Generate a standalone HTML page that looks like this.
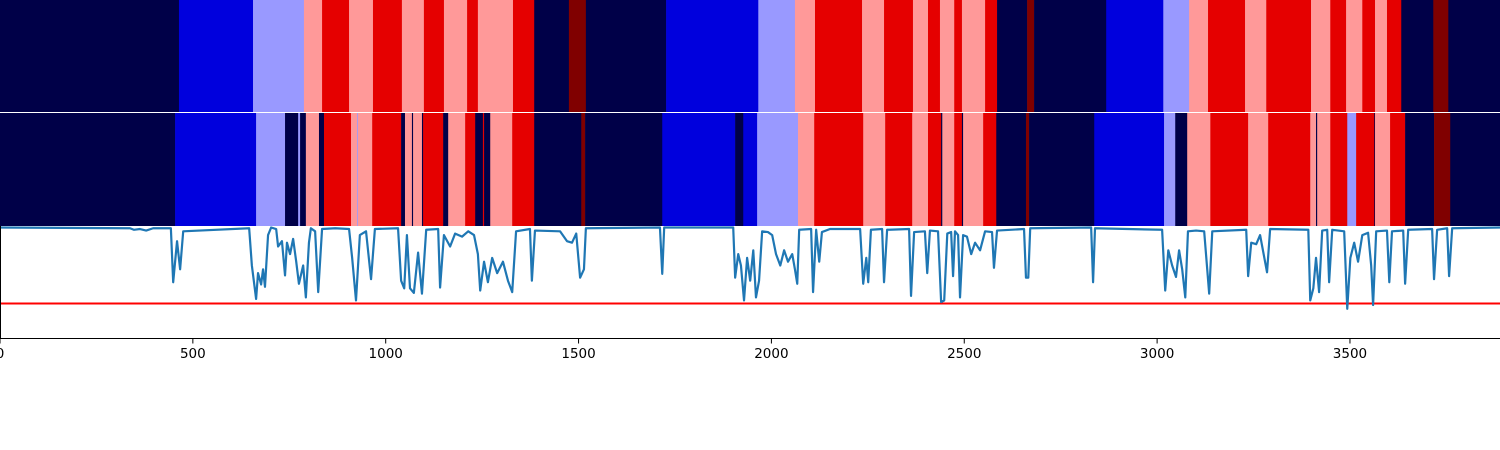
<!DOCTYPE html>
<html><head><meta charset="utf-8"><style>
html,body{margin:0;padding:0;background:#fff;width:1500px;height:450px;overflow:hidden}
svg{display:block}
text{font-family:"DejaVu Sans","Liberation Sans",sans-serif;font-size:13.5px;fill:#000}
</style></head><body>
<svg id="chart" width="1500" height="450" xmlns="http://www.w3.org/2000/svg">
<g id="bands"></g>
<g id="plot"></g>
<g id="axis"></g>
</svg>
<script>
const xMax = 3889;
const palette = ["#000048", "#0000dd", "#9999ff", "#ff9999", "#e50000", "#800000"];
const topStarts = [0,464,656,788,835,905,967,1042,1099,1151,1211,1239,1330,1385,1475,1519,1727,1966,2061,2113,2235,2292,2367,2406,2437,2474,2494,2554,2585,2663,2681,2868,3016,3083,3132,3228,3283,3399,3449,3490,3532,3565,3596,3633,3716,3755];
const topStates = [0,1,2,3,4,3,4,3,4,3,4,3,4,0,5,0,1,2,3,4,3,4,3,4,3,4,3,4,0,5,0,1,2,3,4,3,4,3,4,3,4,3,4,0,5,0];
const midStarts = [0,454,664,739,773,778,793,827,840,910,926,928,965,1040,1050,1068,1071,1094,1097,1149,1162,1206,1232,1252,1255,1271,1328,1385,1507,1517,1717,1906,1927,1963,2069,2111,2238,2295,2365,2406,2440,2443,2474,2494,2497,2549,2583,2660,2668,2837,3018,3047,3078,3138,3236,3288,3397,3412,3415,3449,3493,3516,3563,3565,3604,3643,3718,3760];
const midStates = [0,1,2,0,2,0,3,0,4,3,2,3,4,0,3,0,3,0,4,0,3,4,0,4,0,3,4,0,5,0,1,0,1,2,3,4,3,4,3,4,0,3,4,0,3,4,0,5,0,1,2,0,3,4,3,4,3,0,3,4,2,4,0,3,4,0,5,0];
const sigX = [0,337,347,363,379,397,443,449,459,467,475,646,653,664,669,677,682,687,695,703,716,721,731,739,744,752,760,768,775,786,793,801,806,817,825,835,869,905,913,923,933,949,962,972,1032,1040,1048,1055,1063,1073,1084,1094,1105,1136,1141,1151,1167,1180,1198,1214,1229,1239,1245,1255,1265,1276,1289,1304,1317,1328,1338,1374,1379,1387,1452,1470,1483,1494,1504,1514,1519,1711,1717,1722,1901,1906,1914,1921,1929,1937,1945,1953,1960,1968,1976,1991,2002,2012,2023,2033,2043,2054,2061,2067,2072,2103,2108,2116,2124,2131,2152,2230,2238,2246,2251,2258,2287,2292,2300,2357,2362,2370,2398,2404,2411,2432,2440,2448,2456,2466,2471,2476,2484,2489,2497,2507,2518,2528,2541,2554,2572,2577,2585,2655,2660,2666,2671,2829,2834,2839,3013,3021,3029,3039,3049,3057,3065,3073,3080,3101,3122,3135,3143,3231,3236,3244,3257,3267,3285,3293,3392,3397,3405,3412,3420,3428,3441,3446,3454,3485,3493,3501,3511,3521,3532,3547,3555,3560,3568,3596,3602,3609,3638,3643,3651,3713,3718,3726,3752,3757,3765,3889];
const sigV = [0,0.01,0.03,0.02,0.04,0.01,0.01,0.72,0.18,0.55,0.05,0.01,0.5,0.94,0.6,0.75,0.55,0.78,0.1,0,0.02,0.25,0.18,0.63,0.2,0.35,0.15,0.45,0.74,0.5,0.92,0.2,0.01,0.05,0.85,0.02,0.01,0.02,0.4,0.96,0.1,0.05,0.68,0.02,0.01,0.7,0.8,0.1,0.8,0.86,0.33,0.87,0.03,0.02,0.79,0.1,0.25,0.08,0.12,0.05,0.1,0.35,0.83,0.45,0.72,0.4,0.6,0.45,0.7,0.85,0.05,0.02,0.7,0.04,0.05,0.18,0.2,0.08,0.66,0.55,0.01,0,0.61,0,0,0.66,0.35,0.5,0.96,0.4,0.7,0.3,0.92,0.7,0.05,0.06,0.1,0.35,0.5,0.3,0.45,0.35,0.55,0.74,0.03,0.02,0.85,0.03,0.45,0.06,0.02,0.02,0.74,0.4,0.72,0.03,0.02,0.72,0.03,0.02,0.9,0.06,0.05,0.6,0.04,0.05,0.98,0.96,0.08,0.06,0.64,0.05,0.1,0.92,0.1,0.12,0.35,0.2,0.3,0.05,0.06,0.53,0.04,0.02,0.66,0.66,0.01,0,0.72,0.01,0.03,0.83,0.3,0.5,0.65,0.3,0.55,0.92,0.05,0.04,0.05,0.87,0.05,0.03,0.64,0.2,0.22,0.1,0.59,0.02,0.03,0.96,0.8,0.4,0.85,0.04,0.03,0.72,0.03,0.05,1.07,0.4,0.2,0.45,0.1,0.07,0.5,1.02,0.05,0.04,0.72,0.05,0.04,0.74,0.03,0.02,0.68,0.03,0.01,0.64,0.01,0];
const threshold = 1.0;
const tickValues = [0,500,1000,1500,2000,2500,3000,3500];
const tickLabels = ["0","500","1000","1500","2000","2500","3000","3500"];

const NS = "http://www.w3.org/2000/svg";
const W = 1500;
function xs(v){ return v / xMax * W; }
function ys(v){ return 227.5 + v * 76; }
function mk(tag, attrs, parent){ const e = document.createElementNS(NS, tag); for (const k in attrs) e.setAttribute(k, attrs[k]); parent.appendChild(e); return e; }

const bands = document.getElementById('bands');
function drawRow(starts, states, y0, h, name){
  for (let i = 0; i < starts.length; i++) {
    const x0 = xs(starts[i]);
    const x1 = xs(i + 1 < starts.length ? starts[i + 1] : xMax);
    const r = mk('rect', {x: x0, y: y0, width: Math.max(x1 - x0, 0.5) + 0.3, height: h, fill: palette[states[i]]}, bands);
    
    
  }
}
drawRow(topStarts, topStates, 0, 112, 'top-band');
drawRow(midStarts, midStates, 113, 113, 'middle-band');

const plot = document.getElementById('plot');
const th = mk('line', {x1: 0, x2: W, y1: ys(threshold), y2: ys(threshold), stroke: '#ff0000', 'stroke-width': 2}, plot);


let d = '';
for (let i = 0; i < sigX.length; i++) d += (i ? 'L' : 'M') + xs(sigX[i]).toFixed(2) + ',' + ys(sigV[i]).toFixed(2);
const sig = mk('path', {d: d, fill: 'none', stroke: '#1f77b4', 'stroke-width': 2.2, 'stroke-linejoin': 'round'}, plot);



const axis = document.getElementById('axis');
const ls = mk('line', {x1: 0.5, x2: 0.5, y1: 226, y2: 338.5, stroke: '#000', 'stroke-width': 1}, axis);


const bs = mk('line', {x1: 0, x2: W, y1: 338.5, y2: 338.5, stroke: '#000', 'stroke-width': 1}, axis);


for (let i = 0; i < tickValues.length; i++) {
  const x = xs(tickValues[i]);
  const t = mk('line', {x1: x, x2: x, y1: 338.5, y2: 343.5, stroke: '#000', 'stroke-width': 1}, axis);
  
  
  const tx = mk('text', {x: x, y: 358, 'text-anchor': 'middle'}, axis);
  tx.textContent = tickLabels[i];
  
  
}
</script>
</body></html>
